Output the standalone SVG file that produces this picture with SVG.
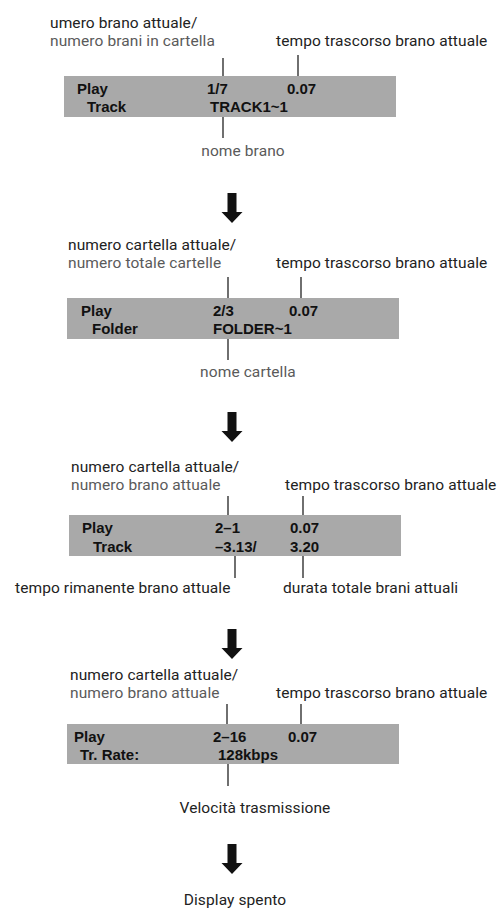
<svg xmlns="http://www.w3.org/2000/svg" width="502" height="911" viewBox="0 0 502 911">
<style>
.lcd{fill:#a9a9a9}
.b{font-family:"Liberation Sans",Arial,sans-serif;font-weight:bold;font-size:15px;fill:#111}
.l{font-family:Roboto,"Noto Sans",sans-serif;font-size:15.5px;fill:#222;letter-spacing:0.1px}
.l2{font-family:Roboto,"Noto Sans",sans-serif;font-size:15.5px;fill:#5a5a5a;letter-spacing:0.1px}
.ld{stroke:#111;stroke-width:1.2;fill:none}
.ar{fill:#111}
</style>
<defs>
<path id="arw" d="M-4.5,0 H4.5 V19 H10.5 L0,30 L-10.5,19 H-4.5 Z"/>
</defs>
<rect width="502" height="911" fill="#fff"/>

<g id="display1">
<rect class="lcd" x="64" y="76" width="332" height="41"/>
<text class="b" x="77" y="94">Play</text>
<text class="b" x="87" y="112">Track</text>
<text class="b" x="207" y="94">1/7</text>
<text class="b" x="287" y="94">0.07</text>
<text class="b" x="210" y="112">TRACK1~1</text>
</g>
<g id="labels1">
<text class="l" x="50" y="27.5">umero brano attuale/</text>
<text class="l2" x="50" y="46">numero brani in cartella</text>
<text class="l" x="276" y="46">tempo trascorso brano attuale</text>
<text class="l2" x="243" y="156" text-anchor="middle">nome brano</text>
</g>

<g id="display2">
<rect class="lcd" x="67" y="298" width="332" height="41"/>
<text class="b" x="81" y="316">Play</text>
<text class="b" x="92" y="334">Folder</text>
<text class="b" x="213" y="316">2/3</text>
<text class="b" x="289" y="316">0.07</text>
<text class="b" x="213" y="334">FOLDER~1</text>
</g>
<g id="labels2">
<text class="l" x="68" y="249.5">numero cartella attuale/</text>
<text class="l2" x="68" y="268">numero totale cartelle</text>
<text class="l" x="276" y="268">tempo trascorso brano attuale</text>
<text class="l2" x="248" y="377" text-anchor="middle">nome cartella</text>
</g>

<g id="display3">
<rect class="lcd" x="69" y="515" width="332" height="41"/>
<text class="b" x="82" y="533">Play</text>
<text class="b" x="93" y="552">Track</text>
<text class="b" x="215" y="533">2–1</text>
<text class="b" x="290" y="533">0.07</text>
<text class="b" x="215" y="552">–3.13/</text>
<text class="b" x="290" y="552">3.20</text>
</g>
<g id="labels3">
<text class="l" x="71" y="471.5">numero cartella attuale/</text>
<text class="l2" x="71" y="490">numero brano attuale</text>
<text class="l" x="285" y="490">tempo trascorso brano attuale</text>
<text class="l" x="15" y="593">tempo rimanente brano attuale</text>
<text class="l" x="283" y="593">durata totale brani attuali</text>
</g>

<g id="display4">
<rect class="lcd" x="67" y="724" width="332" height="40"/>
<text class="b" x="74" y="742">Play</text>
<text class="b" x="80" y="760">Tr. Rate:</text>
<text class="b" x="213" y="742">2–16</text>
<text class="b" x="288" y="742">0.07</text>
<text class="b" x="218" y="760">128kbps</text>
</g>
<g id="labels4">
<text class="l" x="70" y="679.5">numero cartella attuale/</text>
<text class="l2" x="70" y="698">numero brano attuale</text>
<text class="l" x="276" y="698">tempo trascorso brano attuale</text>
<text class="l" x="255" y="813" text-anchor="middle">Velocità trasmissione</text>
</g>

<g id="off">
<text class="l" x="235" y="905" text-anchor="middle">Display spento</text>
</g>

<g id="connectors">
<path class="ld" d="M223,58 V76 M298,55 V76 M223,117 V138"/>
<path class="ld" d="M228,277 V298 M301,277 V298 M228,339 V360"/>
<path class="ld" d="M228,496 V515 M303,496 V515 M235,556 V578 M303,556 V578"/>
<path class="ld" d="M227,704 V724 M301,704 V724 M228,764 V786"/>
<use href="#arw" class="ar" x="232" y="193"/>
<use href="#arw" class="ar" x="232" y="412"/>
<use href="#arw" class="ar" x="232" y="629"/>
<use href="#arw" class="ar" x="232" y="844"/>
</g>
</svg>
